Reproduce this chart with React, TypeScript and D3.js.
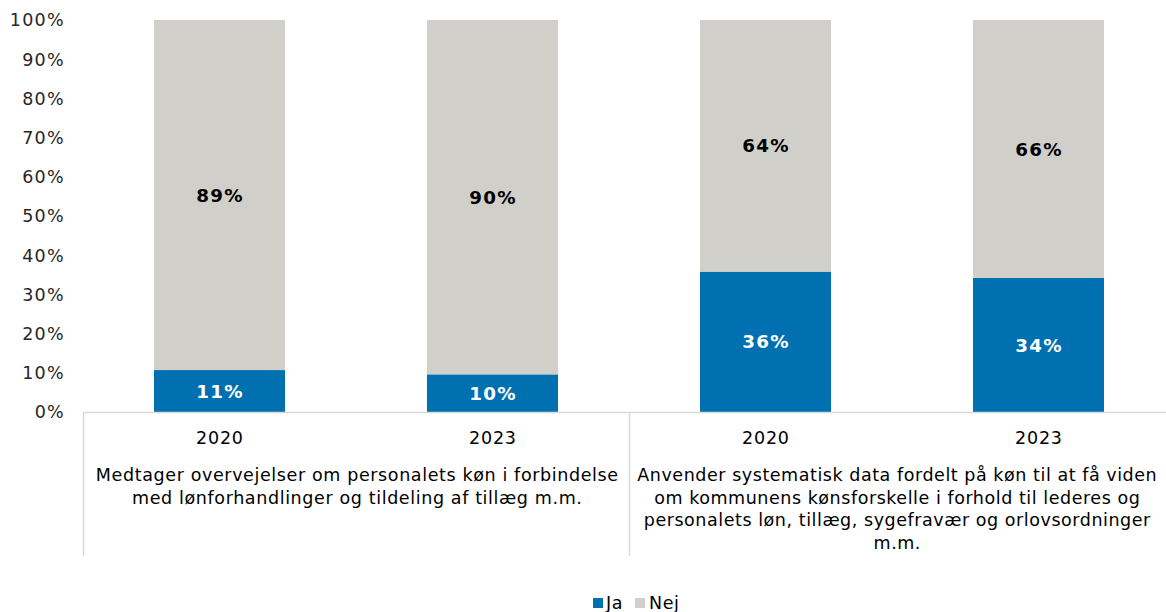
import React from "react";
import * as d3 from "d3";

const categories = ["2020", "2023", "2020", "2023"];
const groups = [
  ["Medtager overvejelser om personalets køn i forbindelse", "med lønforhandlinger og tildeling af tillæg m.m."],
  ["Anvender systematisk data fordelt på køn til at få viden", "om kommunens kønsforskelle i forhold til lederes og", "personalets løn, tillæg, sygefravær og orlovsordninger", "m.m."],
];
const jaValues = [10.7, 9.6, 35.8, 34.2];
const nejValues = [89.3, 90.4, 64.2, 65.8];
const yTicks = [0, 10, 20, 30, 40, 50, 60, 70, 80, 90, 100];
const seriesNames = ["Ja", "Nej"];

const W = 1166;
const H = 612;
const FONT = "'DejaVu Sans', Verdana, sans-serif";
const BLUE = "#0070B0";
const GREY = "#D0CFCA";
const AXIS = "#D9D9D9";

export default function App() {
  const x0 = 83;
  const step = 273;
  const x = d3
    .scaleBand<number>()
    .domain(categories.map((_, i) => i))
    .range([x0, x0 + step * categories.length])
    .paddingInner(0.52)
    .paddingOuter(0.26);
  const y = d3.scaleLinear().domain([0, 100]).range([412, 20]);
  const fs = 17.5;
  const fsBold = 18.3;
  const lsText = 0.55;
  const lsNum = 1.3;
  const lsBold = 1.3;

  return (
    <svg width={W} height={H} style={{ position: "absolute", left: 0, top: 0, fontFamily: FONT }}>
      <rect width={W} height={H} fill="#fff" />
      {yTicks.map((t) => (
        <text key={t} x={65} y={y(t)} dy="0.36em" textAnchor="end" fontSize={fs} fill="#262626" letterSpacing={lsNum}>
          {t}%
        </text>
      ))}
      {categories.map((c, i) => {
        const bx = x(i)!;
        const bw = x.bandwidth();
        const yJa = y(jaValues[i]);
        const yTop = y(jaValues[i] + nejValues[i]);
        const cx = bx + bw / 2;
        return (
          <g key={i}>
            <rect x={bx} y={yJa} width={bw} height={y(0) - yJa} fill={BLUE} />
            <rect x={bx} y={yTop} width={bw} height={yJa - yTop} fill={GREY} />
            <text x={cx + lsBold / 2} y={(yJa + y(0)) / 2} dy="0.36em" textAnchor="middle" fontSize={fsBold} fontWeight="bold" fill="#fff" letterSpacing={lsBold}>
              {Math.round(jaValues[i])}%
            </text>
            <text x={cx + lsBold / 2} y={(yJa + yTop) / 2} dy="0.36em" textAnchor="middle" fontSize={fsBold} fontWeight="bold" fill="#000" letterSpacing={lsBold}>
              {Math.round(nejValues[i])}%
            </text>
            <text x={cx + 0.4} y={438} dy="0.36em" textAnchor="middle" fontSize={fs} fill="#000" letterSpacing={0.8}>
              {c}
            </text>
          </g>
        );
      })}
      <line x1={x0} x2={x0 + step * 4} y1={412.5} y2={412.5} stroke={AXIS} strokeWidth={1.5} />
      {[0, 2, 4].map((k) => (
        <line key={k} x1={x0 + step * k + 0.5} x2={x0 + step * k + 0.5} y1={412} y2={556} stroke={AXIS} strokeWidth={1.5} />
      ))}
      {groups.map((lines, g) => {
        const cx = g === 0 ? 357 : 897;
        return (
          <text key={g} textAnchor="middle" fontSize={fs} fill="#000" letterSpacing={g === 0 ? 0.62 : lsText}>
            {lines.map((l, j) => (
              <tspan key={j} x={cx + lsText / 2} y={475 + j * 22.5} dy="0.36em">
                {l}
              </tspan>
            ))}
          </text>
        );
      })}
      <g letterSpacing={lsText}>
        <rect x={593} y={598} width={10} height={10} fill={BLUE} />
        <text x={606} y={603} dy="0.36em" fontSize={fs} fill="#000">{seriesNames[0]}</text>
        <rect x={635} y={598} width={10} height={10} fill={GREY} />
        <text x={649} y={603} dy="0.36em" fontSize={fs} fill="#000">{seriesNames[1]}</text>
      </g>
    </svg>
  );
}
